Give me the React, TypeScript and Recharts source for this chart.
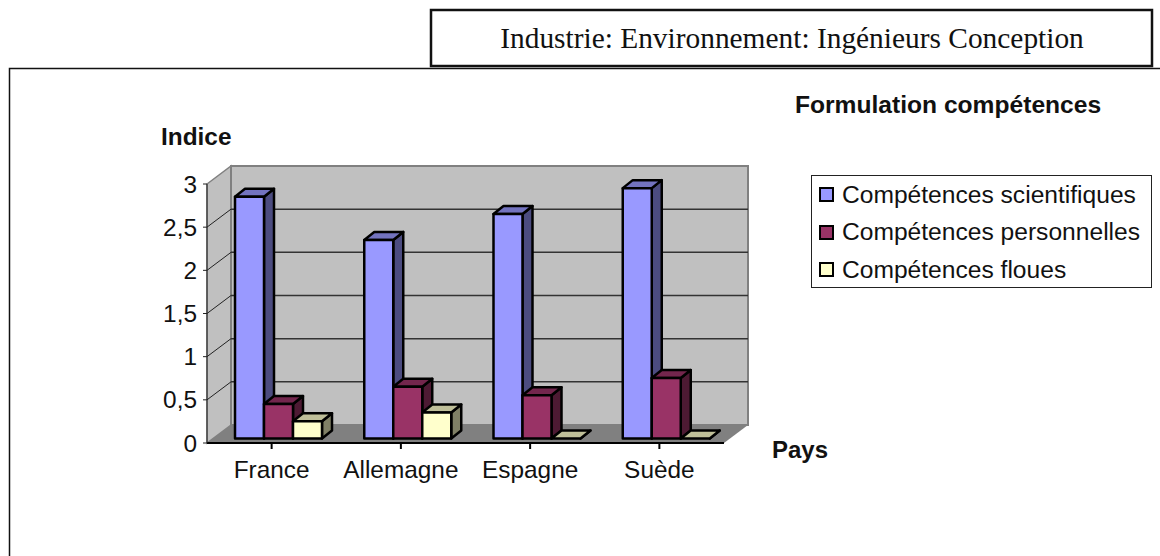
import { Bar, BarChart, CartesianGrid, Legend, XAxis, YAxis } from 'recharts'

const countries = ['France', 'Allemagne', 'Espagne', 'Suède']
const scientifiques = [2.8, 2.3, 2.6, 2.9]
const personnelles = [0.4, 0.6, 0.5, 0.7]
const floues = [0.2, 0.3, 0, 0]
const yTicks = [0, 0.5, 1, 1.5, 2, 2.5, 3]
const seriesNames = ['Compétences scientifiques', 'Compétences personnelles', 'Compétences floues']

const data = countries.map((name, i) => ({
  name,
  scientifiques: scientifiques[i],
  personnelles: personnelles[i],
  floues: floues[i],
}))

const FONT = '"Liberation Sans", Arial, sans-serif'
const SERIF = '"Liberation Serif", "Times New Roman", serif'
const LABEL_SIZE = 24.4

// fake 3D: how far the back wall sits from the front axes
const WALL_DX = 24
const WALL_DY = 18
const LEFT = 207
const RIGHT = 724
const TOP = 184
const BOTTOM = 443

// sits in its own svg under the chart, so the grid lines land on top of the walls
function Backdrop() {
  return (
    <svg width={1160} height={556} style={{ position: 'absolute', left: 0, top: 0 }}>
      <rect x={431} y={10} width={721} height={56} fill="#fff" stroke="#111" strokeWidth={2.5} />
      <text x={792} y={48} textAnchor="middle" fontFamily={SERIF} fontSize={29.4} fill="#111">
        Industrie: Environnement: Ingénieurs Conception
      </text>
      <path d="M9.5 556 L9.5 68.5 L1160 68.5" fill="none" stroke="#111" strokeWidth={1.5} />

      <text x={161} y={145} fontFamily={FONT} fontWeight="bold" fontSize={24.4} fill="#111">Indice</text>
      <text x={772} y={458} fontFamily={FONT} fontWeight="bold" fontSize={24} fill="#111">Pays</text>
      <text x={795} y={113} fontFamily={FONT} fontWeight="bold" fontSize={24.6} fill="#111">Formulation compétences</text>

      <polygon
        points={`${LEFT},${TOP} ${LEFT + WALL_DX},${TOP - WALL_DY} ${LEFT + WALL_DX},${BOTTOM - WALL_DY} ${LEFT},${BOTTOM}`}
        fill="#c0c0c0"
        stroke="#808080"
        strokeWidth={1.5}
      />
      <rect
        x={LEFT + WALL_DX}
        y={TOP - WALL_DY}
        width={RIGHT - LEFT}
        height={BOTTOM - TOP}
        fill="#c0c0c0"
        stroke="#808080"
        strokeWidth={2}
      />
      <polygon
        points={`${LEFT},${BOTTOM} ${RIGHT},${BOTTOM} ${RIGHT + WALL_DX},${BOTTOM - WALL_DY} ${LEFT + WALL_DX},${BOTTOM - WALL_DY}`}
        fill="#808080"
      />
    </svg>
  )
}

function gridLine(props: any) {
  const { x1, y1, x2, key } = props
  // nothing to draw on the top edge or the floor
  if (y1 <= TOP + 1 || y1 >= BOTTOM - 1) return <g key={key} />
  return (
    <g key={key}>
      <line x1={x1} y1={y1} x2={x1 + WALL_DX} y2={y1 - WALL_DY} stroke="#222" strokeWidth={1} />
      <line x1={x1 + WALL_DX} y1={y1 - WALL_DY} x2={x2 + WALL_DX} y2={y1 - WALL_DY} stroke="#333" strokeWidth={1.5} />
    </g>
  )
}

// bars stand in the middle of the floor, not on the front axis
const depthBar = (side: string, top: string) => (props: any) => {
  const { x, y, width, height, fill } = props
  const dx = 10
  const dy = 8
  const left = x + 7
  const right = left + width
  const up = y - 4.5
  const down = up + height
  return (
    <g stroke="#000" strokeWidth={2.5} strokeLinejoin="round">
      <polygon points={`${right},${up} ${right + dx},${up - dy} ${right + dx},${down - dy} ${right},${down}`} fill={side} />
      <polygon points={`${left},${up} ${left + dx},${up - dy} ${right + dx},${up - dy} ${right},${up}`} fill={top} />
      <rect x={left} y={up} width={width} height={height} fill={fill} />
    </g>
  )
}

function LegendBox(props: any) {
  return (
    <div
      style={{
        boxSizing: 'border-box',
        width: 341,
        height: 113,
        border: '1px solid #222',
        background: '#fff',
      }}
    >
      {props.payload.map((p: any) => (
        <div key={p.value} style={{ display: 'flex', alignItems: 'center', height: 37.5, paddingLeft: 7 }}>
          <span style={{ width: 11, height: 11, border: '2.5px solid #000', background: p.color, marginRight: 8 }} />
          <span style={{ fontFamily: FONT, fontSize: 24.6, color: '#111', whiteSpace: 'nowrap' }}>{p.value}</span>
        </div>
      ))}
    </div>
  )
}

export default function App() {
  return (
    <div style={{ position: 'absolute', left: 0, top: 0, width: 1160, height: 556, background: '#fff' }}>
      <Backdrop />
      <div style={{ position: 'absolute', left: 0, top: 0 }}>
        <BarChart
          width={1160}
          height={556}
          data={data}
          margin={{ top: TOP, left: LEFT - 60, right: 1160 - RIGHT, bottom: 556 - BOTTOM - 50 }}
          barCategoryGap={21}
          barGap={0}
        >
          <CartesianGrid vertical={false} horizontal={gridLine} />
          <XAxis
            dataKey="name"
            height={50}
            tickSize={6}
            tickMargin={12}
            interval={0}
            stroke="#000"
            strokeWidth={2}
            tick={{ fontFamily: FONT, fontSize: LABEL_SIZE, fill: '#111' }}
          />
          <YAxis
            width={60}
            domain={[0, 3]}
            ticks={yTicks}
            tickSize={4}
            tickMargin={6}
            interval={0}
            stroke="#222"
            tickFormatter={(v: number) => String(v).replace('.', ',')}
            tick={{ fontFamily: FONT, fontSize: LABEL_SIZE, fill: '#111' }}
          />
          <Legend
            layout="vertical"
            align="center"
            verticalAlign="middle"
            content={LegendBox}
            itemSorter={(item: any) => seriesNames.indexOf(item.value)}
            wrapperStyle={{ left: 811, top: 175, width: 341, height: 113, bottom: 'auto', right: 'auto' }}
          />
          <Bar dataKey="scientifiques" name={seriesNames[0]} fill="#9999ff" isAnimationActive={false} shape={depthBar('#4c4c80', '#7373bf')} />
          <Bar dataKey="personnelles" name={seriesNames[1]} fill="#993366" isAnimationActive={false} shape={depthBar('#4d1a33', '#73264d')} />
          <Bar dataKey="floues" name={seriesNames[2]} fill="#ffffcc" isAnimationActive={false} shape={depthBar('#808066', '#bfbf99')} />
        </BarChart>
      </div>
    </div>
  )
}
